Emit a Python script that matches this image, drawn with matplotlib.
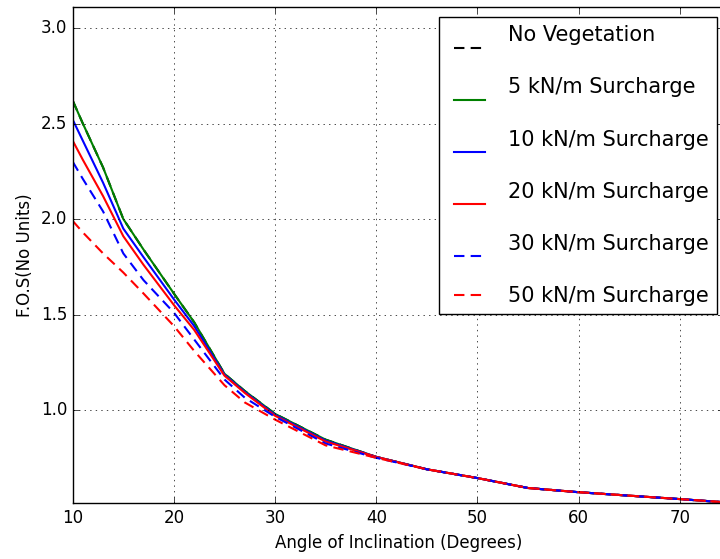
import matplotlib
matplotlib.use('Agg')
import matplotlib.pyplot as plt

# angle of inclination (degrees)
angles = [10, 11, 13, 15, 17, 20, 22, 25, 27, 30, 35, 40, 45, 50, 55, 60, 65, 70, 75]

# factor of safety
fos_no_veg = [2.62, 2.50, 2.27, 2.00, 1.84, 1.61, 1.46, 1.19, 1.10, 0.98, 0.845, 0.755, 0.69, 0.644, 0.592, 0.570, 0.552, 0.534, 0.515]
fos_5 = [2.62, 2.50, 2.27, 2.00, 1.84, 1.61, 1.46, 1.19, 1.10, 0.98, 0.845, 0.755, 0.69, 0.644, 0.592, 0.570, 0.552, 0.534, 0.515]
fos_10 = [2.52, 2.41, 2.19, 1.95, 1.80, 1.58, 1.44, 1.185, 1.095, 0.975, 0.84, 0.755, 0.69, 0.644, 0.592, 0.570, 0.552, 0.534, 0.515]
fos_20 = [2.41, 2.31, 2.12, 1.91, 1.76, 1.55, 1.42, 1.18, 1.09, 0.97, 0.835, 0.755, 0.69, 0.644, 0.592, 0.570, 0.552, 0.534, 0.515]
fos_30 = [2.30, 2.21, 2.04, 1.82, 1.68, 1.51, 1.37, 1.16, 1.065, 0.965, 0.825, 0.75, 0.69, 0.644, 0.592, 0.570, 0.552, 0.534, 0.515]
fos_50 = [1.99, 1.93, 1.82, 1.72, 1.61, 1.44, 1.31, 1.13, 1.04, 0.95, 0.815, 0.75, 0.69, 0.644, 0.592, 0.570, 0.552, 0.534, 0.515]

# legend labels (all but the last carry a trailing line break, as in the original)
labels = ['No Vegetation\n', '5 kN/m Surcharge\n', '10 kN/m Surcharge\n',
          '20 kN/m Surcharge\n', '30 kN/m Surcharge\n', '50 kN/m Surcharge']

plt.style.use('classic')
fig = plt.figure(figsize=(7.2, 5.59), dpi=100, facecolor='white')
ax = fig.add_axes([0.101, 0.100, 0.905, 0.8875])

dash = (7.5, 4.5)
ax.plot(angles, fos_no_veg, 'k--', lw=1.5, dashes=dash, label=labels[0])
ax.plot(angles, fos_5, 'g-', lw=1.5, label=labels[1])
ax.plot(angles, fos_10, 'b-', lw=1.5, label=labels[2])
ax.plot(angles, fos_20, 'r-', lw=1.5, label=labels[3])
ax.plot(angles, fos_30, 'b--', lw=1.5, dashes=dash, label=labels[4])
ax.plot(angles, fos_50, 'r--', lw=1.5, dashes=dash, label=labels[5])

ax.set_xlim(10, 74.4)
ax.set_ylim(0.513, 3.11)
ax.set_xticks([10, 20, 30, 40, 50, 60, 70])
ax.set_yticks([1.0, 1.5, 2.0, 2.5, 3.0])
ax.set_xlabel('Angle of Inclination (Degrees)', fontsize=12)
ax.set_ylabel('F.O.S(No Units)', fontsize=12)
ax.grid(True)

ax.legend(loc='upper right', bbox_to_anchor=(717 / 720, 1 - 17 / 559),
          bbox_transform=fig.transFigure, borderaxespad=0, fontsize=15,
          handlelength=2.1, handletextpad=0.8, labelspacing=0.43,
          fancybox=False)

fig.savefig('out.png', dpi=100, facecolor='white')
